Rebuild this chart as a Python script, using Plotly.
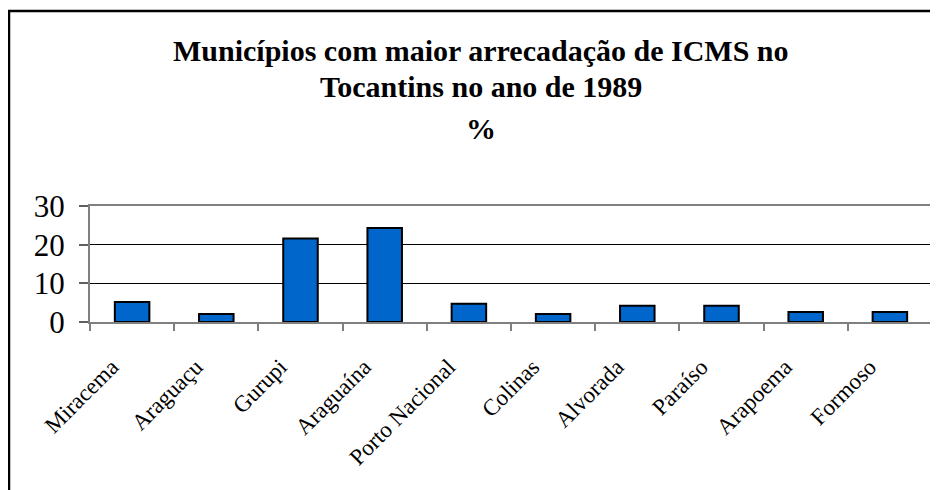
import plotly.graph_objects as go

# Data
municipios = ["Miracema", "Araguaçu", "Gurupi", "Araguaína", "Porto Nacional",
              "Colinas", "Alvorada", "Paraíso", "Arapoema", "Formoso"]
percentual = [5.2, 2.1, 21.6, 24.3, 4.7, 2.1, 4.2, 4.2, 2.6, 2.6]
y_ticks = [0, 10, 20, 30]
title_lines = ["Municípios com maior arrecadação de ICMS no",
               "Tocantins no ano de 1989",
               "%"]

# page body has an 8px margin; compensate so the picture lines up
OFF = 8
W, H = 938, 490
L, T = 90 - OFF, 206 - OFF
plot_w, plot_h = 842, 116
R = W - L - plot_w
B = H - T - plot_h

def px_to_paper_x(px):
    return (px - OFF - L) / plot_w

def px_to_paper_y(py):
    return (T + plot_h - (py - OFF)) / plot_h

fig = go.Figure()
fig.add_trace(go.Bar(
    x=municipios,
    y=percentual,
    width=0.41,
    marker=dict(color="#0066CC", line=dict(color="#000000", width=2)),
    showlegend=False,
))

serif = "Liberation Serif, Times New Roman, serif"

fig.update_layout(
    width=W, height=H,
    margin=dict(l=L, r=R, t=T, b=B, pad=0),
    paper_bgcolor="white",
    plot_bgcolor="white",
    font=dict(family=serif, color="black"),
)

fig.update_xaxes(
    type="category",
    tickangle=-45,
    tickmode="array",
    tickvals=municipios,
    ticktext=[m + "\u00a0" * 5 for m in municipios],
    tickfont=dict(family=serif, size=23, color="black"),
    ticks="outside", tickson="boundaries", ticklen=7, tickwidth=1.5, tickcolor="#808080",
    showline=True, linecolor="#808080", linewidth=2, mirror=True,
    showgrid=False,
)
fig.update_yaxes(
    range=[0, 30],
    tickvals=y_ticks,
    tickfont=dict(family=serif, size=31, color="black"),
    ticks="outside", ticklen=9, tickwidth=1.5, tickcolor="#606060",
    showline=True, linecolor="#808080", linewidth=2, mirror=True,
    showgrid=True, gridcolor="#000000", gridwidth=1,
    zeroline=False,
    ticklabelstandoff=8,
)

# Title lines
title_y_px = [50, 87, 128]
for txt, ypx in zip(title_lines, title_y_px):
    fig.add_annotation(
        text="<b>%s</b>" % txt,
        xref="paper", yref="paper",
        x=px_to_paper_x(481), y=px_to_paper_y(ypx),
        xanchor="center", yanchor="middle",
        showarrow=False,
        font=dict(family=serif, size=30, color="black"),
    )

# Outer chart frame (left and top edges visible)
fig.add_shape(type="line", xref="paper", yref="paper",
              x0=px_to_paper_x(9), y0=px_to_paper_y(500),
              x1=px_to_paper_x(9), y1=px_to_paper_y(11),
              line=dict(color="black", width=2.5))
fig.add_shape(type="line", xref="paper", yref="paper",
              x0=px_to_paper_x(8), y0=px_to_paper_y(11),
              x1=px_to_paper_x(950), y1=px_to_paper_y(11),
              line=dict(color="black", width=2.5))

fig.write_html("out.html")
